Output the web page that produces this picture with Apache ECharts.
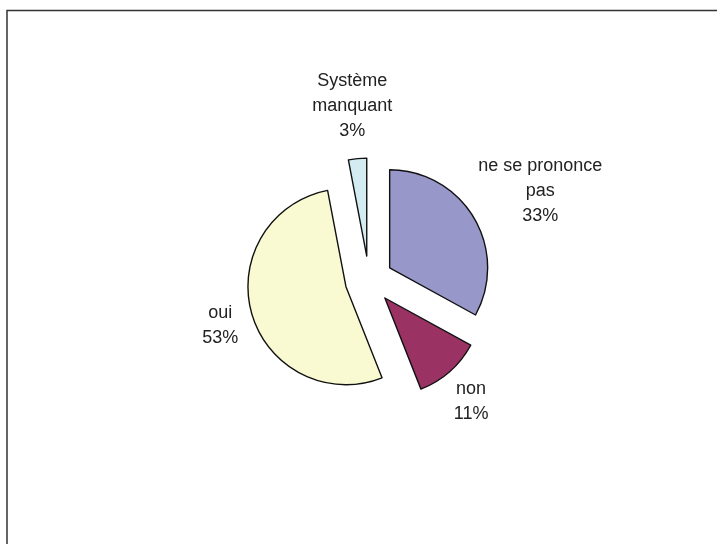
<!DOCTYPE html>
<html>
<head>
<meta charset="utf-8">
<script src="https://cdn.jsdelivr.net/npm/echarts@6/dist/echarts.min.js"></script>
<style>
html,body{margin:0;padding:0;background:#fff;}
#chart{width:717px;height:544px;}
</style>
</head>
<body>
<div id="chart"></div>
<script>
// Data
var categories = ['ne se prononce\npas', 'non', 'oui', 'Système\nmanquant'];
var values = [33, 11, 53, 3];
var colors = ['#9797C9', '#9A3264', '#FAFAD2', '#D2ECF2'];

// Layout constants
var CX = 369, CY = 280, R = 98, OFFSET = 24, GAP = 15;

var total = values.reduce(function (a, b) { return a + b; }, 0);
var midAngles = [];
(function () {
  var acc = 0;
  for (var i = 0; i < values.length; i++) {
    midAngles.push((acc + values[i] / 2) / total * Math.PI * 2);
    acc += values[i];
  }
})();

var chart = echarts.init(document.getElementById('chart'), null, {renderer: 'canvas'});
var option = {
  backgroundColor: '#ffffff',
  animation: false,
  graphic: [{
    type: 'rect',
    x: 0, y: 0,
    shape: {x: 7, y: 10.5, width: 800, height: 600},
    style: {fill: 'none', stroke: '#333', lineWidth: 1.5},
    silent: true
  }],
  series: [{
    // exploded slices
    type: 'pie',
    center: [CX, CY],
    radius: R,
    startAngle: 90,
    clockwise: true,
    selectedMode: 'multiple',
    selectedOffset: OFFSET,
    avoidLabelOverlap: false,
    itemStyle: {borderColor: '#111', borderWidth: 1.4},
    select: {itemStyle: {borderColor: '#111', borderWidth: 1.4}},
    emphasis: {disabled: true},
    label: {show: false},
    labelLine: {show: false},
    data: categories.map(function (c, i) {
      return {name: c, value: values[i], selected: true, itemStyle: {color: colors[i]}};
    })
  }, {
    // label carrier (same data, invisible sectors)
    type: 'pie',
    center: [CX, CY],
    radius: R,
    startAngle: 90,
    clockwise: true,
    silent: true,
    selectedMode: false,
    avoidLabelOverlap: false,
    z: 3,
    itemStyle: {color: 'rgba(0,0,0,0)', borderWidth: 0},
    emphasis: {disabled: true},
    label: {
      show: true,
      position: 'outside',
      color: '#222',
      fontFamily: 'Liberation Sans, Arial, sans-serif',
      fontSize: 18,
      lineHeight: 25,
      formatter: function (p) { return p.name + '\n' + p.value + '%'; }
    },
    labelLine: {show: false, length: 8, length2: 0},
    labelLayout: function (p) {
      var r = p.labelRect;
      var th = midAngles[p.dataIndex];
      var s = Math.sin(th), c = Math.cos(th);
      var dist = OFFSET + R + GAP;
      return {
        x: CX + s * dist + s * r.width / 2,
        y: CY - c * dist - c * r.height / 2,
        align: 'center',
        verticalAlign: 'middle'
      };
    },
    data: categories.map(function (c, i) {
      return {name: c, value: values[i]};
    })
  }]
};
chart.setOption(option);
</script>
</body>
</html>
